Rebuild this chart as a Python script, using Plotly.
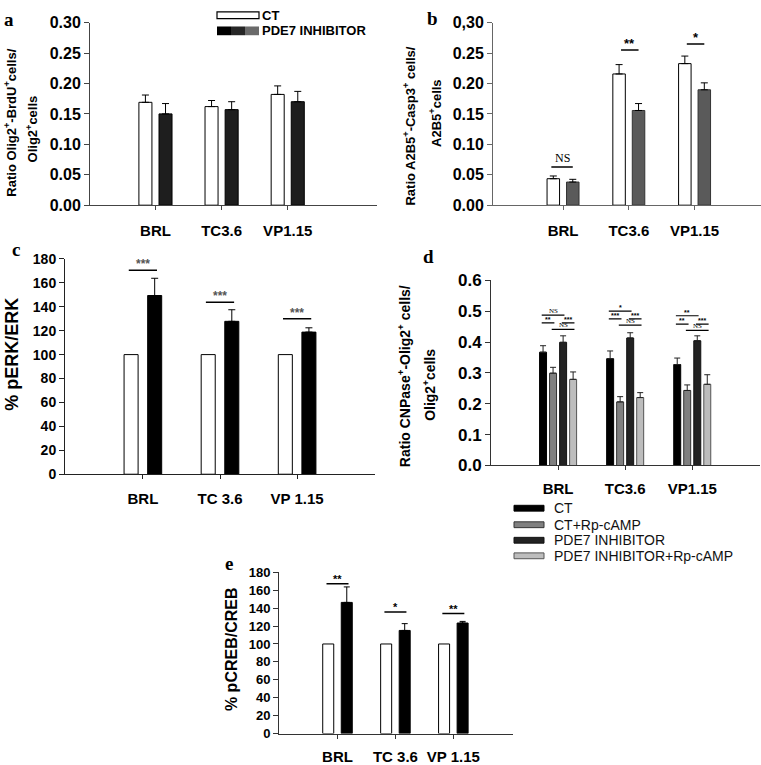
import plotly.graph_objects as go

W, H = 761, 765

# ---------------- data ----------------
groups_ab = ["BRL", "TC3.6", "VP1.15"]
groups_ce = ["BRL", "TC 3.6", "VP 1.15"]

# panel a
a_ct = [0.169, 0.162, 0.182]
a_ct_err = [0.012, 0.010, 0.014]
a_pde = [0.150, 0.157, 0.170]
a_pde_err = [0.017, 0.013, 0.017]
ratio_ticks = [0.0, 0.05, 0.10, 0.15, 0.20, 0.25, 0.30]
a_ticktext = ["0.00", "0.05", "0.10", "0.15", "0.20", "0.25", "0.30"]

# panel b
b_ct = [0.0435, 0.2156, 0.2326]
b_ct_err = [0.0045, 0.0154, 0.0124]
b_pde = [0.0380, 0.1556, 0.1896]
b_pde_err = [0.0045, 0.0114, 0.0114]
b_sig = ["NS", "**", "*"]
b_sig_y = [0.0627, 0.255, 0.265]
b_ticktext = ["0.00", "0.05", "0.10", "0.15", "0.20", "0.25", "0,30"]

# panel c
c_ct = [100, 100, 100]
c_pde = [149.4, 127.8, 118.8]
c_pde_err = [14.4, 9.7, 3.6]
c_sig = ["***", "***", "***"]
c_sig_y = [170.5, 143.7, 130.0]
pct_ticks = [0, 20, 40, 60, 80, 100, 120, 140, 160, 180]

# panel d
d_names = ["CT", "CT+Rp-cAMP", "PDE7 INHIBITOR", "PDE7 INHIBITOR+Rp-cAMP"]
d_vals = [
    [0.367, 0.346, 0.327],
    [0.299, 0.206, 0.243],
    [0.399, 0.413, 0.404],
    [0.279, 0.220, 0.263],
]
d_errs = [
    [0.021, 0.025, 0.021],
    [0.019, 0.017, 0.018],
    [0.021, 0.017, 0.016],
    [0.024, 0.016, 0.031],
]
d_ticks = [0.0, 0.1, 0.2, 0.3, 0.4, 0.5, 0.6]
d_ticktext = ["0.0", "0.1", "0.2", "0.3", "0.4", "0.5", "0.6"]
# (bar i, bar j, level, label) per group
d_sig = [
    [(0, 2, 0.487, "NS"), (0, 1, 0.462, "**"), (2, 3, 0.462, "***"), (1, 3, 0.441, "NS")],
    [(0, 2, 0.500, "*"), (0, 1, 0.475, "***"), (2, 3, 0.475, "***"), (1, 3, 0.455, "NS")],
    [(0, 2, 0.485, "**"), (0, 1, 0.458, "**"), (2, 3, 0.458, "***"), (1, 3, 0.438, "NS")],
]

# panel e
e_ct = [100, 100, 100]
e_pde = [146.4, 115.1, 123.4]
e_pde_err = [17.3, 7.6, 1.8]
e_sig = ["**", "*", "**"]
e_sig_y = [167.3, 135.6, 134.0]

# ---------------- layout geometry (pixels) ----------------
def px(x):
    return x / W


def py(y):
    return 1 - y / H


FONT = "Liberation Sans"
SERIF = "Liberation Serif"

fig = go.Figure()


def bar(ax, offset, vals, width, color, line_color, errs=None, capw=3.5, errcolor="black"):
    xs = [i + offset for i in range(len(vals))]
    ey = None
    if errs is not None:
        ey = dict(type="data", array=errs, arrayminus=[0] * len(errs), symmetric=False,
                  color=errcolor, thickness=1, width=capw)
    fig.add_trace(go.Bar(
        x=xs, y=vals, width=width,
        marker=dict(color=color, line=dict(color=line_color, width=1)),
        error_y=ey, xaxis="x" + ax, yaxis="y" + ax, showlegend=False,
        hoverinfo="skip",
    ))
    return xs


layout = dict(
    width=W, height=H, margin=dict(l=0, r=0, t=0, b=0),
    paper_bgcolor="white", plot_bgcolor="white", barmode="overlay",
    showlegend=False, font=dict(family=FONT, color="black"),
)


def axes(ax, xd, yd, xr, yr, xtext, yvals, ytext, xfont, yfont, linecolor="#333", standoff=6):
    xk = "xaxis" + ("" if ax == "" else ax)
    yk = "yaxis" + ("" if ax == "" else ax)
    layout[xk] = dict(
        domain=[px(xd[0]), px(xd[1])], range=list(xr), anchor="y" + ax,
        tickvals=[0, 1, 2], ticktext=xtext, showline=True, linecolor=linecolor,
        linewidth=1, ticks="outside", ticklen=4, tickcolor=linecolor,
        showgrid=False, zeroline=False, fixedrange=True,
        tickfont=dict(family=FONT, size=xfont, weight="bold", color="black"),
        ticklabelstandoff=standoff,
    )
    layout[yk] = dict(
        domain=[py(yd[1]), py(yd[0])], range=list(yr), anchor="x" + ax,
        tickvals=yvals, ticktext=ytext, showline=True, linecolor=linecolor,
        linewidth=1, ticks="outside", ticklen=5, tickcolor=linecolor,
        showgrid=False, zeroline=False, fixedrange=True,
        tickfont=dict(family=FONT, size=yfont, weight="bold", color="black"),
    )


annotations = []
shapes = []


def ann(x, y, text, size, ref=("paper", "paper"), angle=0, family=FONT, bold=True,
        xanchor="center", yanchor="middle", color="black", yshift=0):
    annotations.append(dict(
        x=x, y=y, xref=ref[0], yref=ref[1], text=text, showarrow=False,
        textangle=angle, xanchor=xanchor, yanchor=yanchor, yshift=yshift,
        font=dict(family=family, size=size, color=color, weight="bold" if bold else "normal"),
    ))


def sig_line(ax, x0, x1, y, label, size, color="black", family=FONT, bold=True, lw=1.5, yshift=0):
    shapes.append(dict(type="line", xref="x" + ax, yref="y" + ax, x0=x0, x1=x1, y0=y, y1=y,
                       line=dict(color="black", width=lw)))
    ann((x0 + x1) / 2, y, label, size, ref=("x" + ax, "y" + ax), family=family, bold=bold,
        yanchor="bottom", color=color, yshift=yshift)


# ---------------- panel a ----------------
axes("", (90, 377), (14, 202), (-0.99, 3.35), (0, 0.30), groups_ab, ratio_ticks, a_ticktext, 15, 16,
     linecolor="#444", standoff=8)
bar("", -0.152, a_ct, 0.197, "white", "black", a_ct_err)
bar("", 0.152, a_pde, 0.197, "#1e1e1e", "black", a_pde_err)

# ---------------- panel b ----------------
axes("2", (493, 761), (14, 202), (-1.065, 3.01), (0, 0.30), groups_ab, ratio_ticks, b_ticktext, 15, 16,
     linecolor="#666", standoff=8)
xb0 = bar("2", -0.148, b_ct, 0.19, "white", "black", b_ct_err)
xb1 = bar("2", 0.148, b_pde, 0.19, "#5a5a5a", "#333", b_pde_err)
for i, (lab, lev) in enumerate(zip(b_sig, b_sig_y)):
    if lab == "NS":
        sig_line("2", xb0[i] - 0.03, xb1[i] + 0.0, lev, lab, 12, family=SERIF, bold=False)
    else:
        sig_line("2", xb0[i] + 0.03, xb1[i] + 0.0, lev, lab, 13, yshift=-3)

# ---------------- panel c ----------------
axes("3", (65, 375), (257.3, 479), (-1.01, 3.01), (0, 180), groups_ce, pct_ticks, [str(t) for t in pct_ticks],
     15, 14, linecolor="#222", standoff=7)
xc0 = bar("3", -0.153, c_ct, 0.182, "white", "black")
xc1 = bar("3", 0.153, c_pde, 0.182, "black", "black", c_pde_err)
for i, (lab, lev) in enumerate(zip(c_sig, c_sig_y)):
    sig_line("3", xc0[i] - 0.03, xc1[i] + 0.03, lev, lab, 12, color="#555", yshift=-3)

# ---------------- panel d ----------------
axes("4", (491, 760), (279.3, 470), (-1.0, 3.01), (0, 0.6), groups_ab, d_ticks, d_ticktext, 15, 17,
     linecolor="#333", standoff=6)
d_colors = ["#000000", "#808080", "#222222", "#bdbdbd"]
d_lines = ["#000000", "#333333", "#111111", "#555555"]
d_off = [-0.224, -0.075, 0.075, 0.224]
d_x = []
for k in range(4):
    d_x.append(bar("4", d_off[k], d_vals[k], 0.104, d_colors[k], d_lines[k], d_errs[k], capw=3,
                   errcolor="#222"))
for g, items in enumerate(d_sig):
    for (i, j, lev, lab) in items:
        sig_line("4", d_x[i][g] - 0.02, d_x[j][g] + 0.02, lev, lab, 7, lw=1.2,
                 family=SERIF if lab == "NS" else FONT, bold=lab != "NS", yshift=-2)

# ---------------- panel e ----------------
axes("5", (279, 513), (580, 746), (-1.01, 3.03), (0, 180), groups_ce, pct_ticks, [str(t) for t in pct_ticks],
     15, 13, linecolor="#333", standoff=5)
xe0 = bar("5", -0.16, e_ct, 0.19, "white", "black")
xe1 = bar("5", 0.16, e_pde, 0.19, "black", "black", e_pde_err, capw=3)
for i, (lab, lev) in enumerate(zip(e_sig, e_sig_y)):
    sig_line("5", xe0[i] - 0.03, xe1[i] + 0.03, lev, lab, 11, yshift=-3)

# ---------------- y titles ----------------
ann(px(10), py(117), "Ratio Olig2<sup>+</sup>-BrdU<sup>+</sup>cells/", 13, angle=-90)
ann(px(32), py(124), "Olig2<sup>+</sup>cells", 13, angle=-90)
ann(px(409), py(120), "Ratio A2B5<sup>+</sup>-Casp3<sup>+</sup> cells/", 13, angle=-90)
ann(px(435), py(108), "A2B5<sup>+</sup>cells", 13, angle=-90)
ann(px(12), py(356), "% pERK/ERK", 18, angle=-90)
ann(px(404), py(378), "Ratio CNPase<sup>+</sup>-Olig2<sup>+</sup> cells/", 14, angle=-90)
ann(px(429), py(387), "Olig2<sup>+</sup>cells", 14, angle=-90)
ann(px(231), py(659), "% pCREB/CREB", 16, angle=-90)

# ---------------- panel letters ----------------
for lx, ly, lt in [(9, 11, "a"), (432, 10, "b"), (16, 248, "c"), (428, 255, "d"), (229, 571, "e")]:
    ann(px(lx), py(ly), lt, 19, family=SERIF)

# ---------------- legend a ----------------
shapes.append(dict(type="rect", xref="paper", yref="paper", x0=px(217), x1=px(259), y0=py(10), y1=py(3),
                   line=dict(color="black", width=1.2), fillcolor="white"))
for (x0, x1, c) in [(217, 231, "#000000"), (231, 245, "#262626"), (245, 259, "#6a6a6a")]:
    shapes.append(dict(type="rect", xref="paper", yref="paper", x0=px(x0), x1=px(x1), y0=py(27), y1=py(18),
                       line=dict(width=0), fillcolor=c))
ann(px(260), py(6.5), "CT", 13, xanchor="left")
ann(px(260), py(22.5), "PDE7 INHIBITOR", 13, xanchor="left")

# ---------------- legend d ----------------
for k, (name, yc) in enumerate(zip(d_names, [514, 531, 547, 563])):
    shapes.append(dict(type="rect", xref="paper", yref="paper", x0=px(514), x1=px(544),
                       y0=py(yc + 3), y1=py(yc - 3), line=dict(color=d_lines[k], width=1),
                       fillcolor=d_colors[k]))
    ann(px(552), py(yc), name, 14, xanchor="left", bold=False, color="#111")

layout["annotations"] = annotations
layout["shapes"] = shapes
fig.update_layout(**layout)
fig.write_html("out.html", config={"displayModeBar": False},
               post_script="document.body.style.margin='0px';document.body.style.overflow='hidden';")
